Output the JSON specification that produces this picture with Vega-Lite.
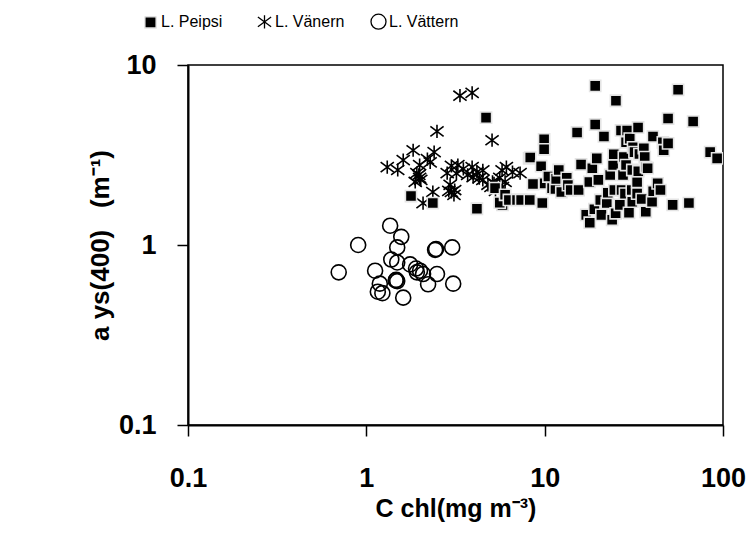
{
  "$schema": "https://vega.github.io/schema/vega-lite/v6.json",
  "width": 535,
  "height": 360,
  "autosize": {"type": "none"},
  "padding": {"left": 188, "top": 65, "right": 29, "bottom": 108},
  "background": "white",
  "datasets": {
    "samples": [
      {"lake": "L. Vättern", "chl": 1.36, "ays": 1.28},
      {"lake": "L. Vättern", "chl": 1.57, "ays": 1.11},
      {"lake": "L. Vättern", "chl": 0.90, "ays": 1.0},
      {"lake": "L. Vättern", "chl": 1.49, "ays": 0.97},
      {"lake": "L. Vättern", "chl": 2.43, "ays": 0.94},
      {"lake": "L. Vättern", "chl": 2.46, "ays": 0.95},
      {"lake": "L. Vättern", "chl": 3.03, "ays": 0.97},
      {"lake": "L. Vättern", "chl": 1.38, "ays": 0.83},
      {"lake": "L. Vättern", "chl": 1.49, "ays": 0.80},
      {"lake": "L. Vättern", "chl": 1.76, "ays": 0.78},
      {"lake": "L. Vättern", "chl": 1.90, "ays": 0.74},
      {"lake": "L. Vättern", "chl": 1.92, "ays": 0.705},
      {"lake": "L. Vättern", "chl": 2.08, "ays": 0.69},
      {"lake": "L. Vättern", "chl": 2.0, "ays": 0.72},
      {"lake": "L. Vättern", "chl": 2.49, "ays": 0.69},
      {"lake": "L. Vättern", "chl": 0.70, "ays": 0.705},
      {"lake": "L. Vättern", "chl": 1.12, "ays": 0.72},
      {"lake": "L. Vättern", "chl": 1.19, "ays": 0.61},
      {"lake": "L. Vättern", "chl": 1.47, "ays": 0.64},
      {"lake": "L. Vättern", "chl": 1.49, "ays": 0.63},
      {"lake": "L. Vättern", "chl": 1.46, "ays": 0.635},
      {"lake": "L. Vättern", "chl": 2.22, "ays": 0.605},
      {"lake": "L. Vättern", "chl": 3.07, "ays": 0.61},
      {"lake": "L. Vättern", "chl": 1.16, "ays": 0.55},
      {"lake": "L. Vättern", "chl": 1.23, "ays": 0.54},
      {"lake": "L. Vättern", "chl": 1.61, "ays": 0.51},

      {"lake": "L. Vänern", "chl": 3.35, "ays": 6.75},
      {"lake": "L. Vänern", "chl": 3.92, "ays": 7.0},
      {"lake": "L. Vänern", "chl": 2.49, "ays": 4.28},
      {"lake": "L. Vänern", "chl": 5.07, "ays": 3.82},
      {"lake": "L. Vänern", "chl": 1.31, "ays": 2.71},
      {"lake": "L. Vänern", "chl": 1.50, "ays": 2.61},
      {"lake": "L. Vänern", "chl": 1.61, "ays": 2.96},
      {"lake": "L. Vänern", "chl": 1.83, "ays": 3.36},
      {"lake": "L. Vänern", "chl": 2.40, "ays": 3.28},
      {"lake": "L. Vänern", "chl": 2.28, "ays": 2.88},
      {"lake": "L. Vänern", "chl": 2.2, "ays": 3.0},
      {"lake": "L. Vänern", "chl": 1.99, "ays": 2.78},
      {"lake": "L. Vänern", "chl": 1.92, "ays": 2.51},
      {"lake": "L. Vänern", "chl": 1.99, "ays": 2.36},
      {"lake": "L. Vänern", "chl": 1.88, "ays": 2.24},
      {"lake": "L. Vänern", "chl": 1.97, "ays": 2.45},
      {"lake": "L. Vänern", "chl": 2.02, "ays": 2.30},
      {"lake": "L. Vänern", "chl": 2.84, "ays": 2.51},
      {"lake": "L. Vänern", "chl": 2.95, "ays": 2.16},
      {"lake": "L. Vänern", "chl": 3.13, "ays": 2.02},
      {"lake": "L. Vänern", "chl": 3.26, "ays": 2.78},
      {"lake": "L. Vänern", "chl": 3.0, "ays": 2.75},
      {"lake": "L. Vänern", "chl": 3.2, "ays": 2.5},
      {"lake": "L. Vänern", "chl": 3.0, "ays": 1.97},
      {"lake": "L. Vänern", "chl": 2.9, "ays": 2.0},
      {"lake": "L. Vänern", "chl": 3.1, "ays": 1.9},
      {"lake": "L. Vänern", "chl": 2.36, "ays": 1.97},
      {"lake": "L. Vänern", "chl": 2.08, "ays": 1.71},
      {"lake": "L. Vänern", "chl": 3.5, "ays": 2.65},
      {"lake": "L. Vänern", "chl": 3.7, "ays": 2.45},
      {"lake": "L. Vänern", "chl": 3.92, "ays": 2.71},
      {"lake": "L. Vänern", "chl": 4.17, "ays": 2.54},
      {"lake": "L. Vänern", "chl": 4.5, "ays": 2.6},
      {"lake": "L. Vänern", "chl": 3.97, "ays": 2.38},
      {"lake": "L. Vänern", "chl": 4.3, "ays": 2.35},
      {"lake": "L. Vänern", "chl": 4.5, "ays": 2.3},
      {"lake": "L. Vänern", "chl": 4.81, "ays": 2.16},
      {"lake": "L. Vänern", "chl": 5.0, "ays": 2.1},
      {"lake": "L. Vänern", "chl": 5.1, "ays": 2.24},
      {"lake": "L. Vänern", "chl": 5.3, "ays": 2.0},
      {"lake": "L. Vänern", "chl": 5.2, "ays": 2.2},
      {"lake": "L. Vänern", "chl": 5.8, "ays": 2.1},
      {"lake": "L. Vänern", "chl": 5.77, "ays": 2.6},
      {"lake": "L. Vänern", "chl": 6.1, "ays": 2.71},
      {"lake": "L. Vänern", "chl": 6.6, "ays": 2.54},
      {"lake": "L. Vänern", "chl": 5.6, "ays": 2.36},
      {"lake": "L. Vänern", "chl": 6.0, "ays": 2.24},
      {"lake": "L. Vänern", "chl": 7.28, "ays": 2.51},

      {"lake": "L. Peipsi", "chl": 1.78, "ays": 1.87},
      {"lake": "L. Peipsi", "chl": 2.36, "ays": 1.71},
      {"lake": "L. Peipsi", "chl": 4.17, "ays": 1.59},
      {"lake": "L. Peipsi", "chl": 4.69, "ays": 5.1},
      {"lake": "L. Peipsi", "chl": 5.8, "ays": 1.67},
      {"lake": "L. Peipsi", "chl": 5.6, "ays": 1.72},
      {"lake": "L. Peipsi", "chl": 5.27, "ays": 2.07},
      {"lake": "L. Peipsi", "chl": 6.0, "ays": 1.9},
      {"lake": "L. Peipsi", "chl": 6.3, "ays": 1.78},
      {"lake": "L. Peipsi", "chl": 7.0, "ays": 1.78},
      {"lake": "L. Peipsi", "chl": 7.38, "ays": 1.78},
      {"lake": "L. Peipsi", "chl": 8.25, "ays": 1.78},
      {"lake": "L. Peipsi", "chl": 9.7, "ays": 1.71},
      {"lake": "L. Peipsi", "chl": 8.18, "ays": 3.03},
      {"lake": "L. Peipsi", "chl": 8.3, "ays": 3.06},
      {"lake": "L. Peipsi", "chl": 9.55, "ays": 2.74},
      {"lake": "L. Peipsi", "chl": 9.93, "ays": 3.86},
      {"lake": "L. Peipsi", "chl": 9.93, "ays": 3.40},
      {"lake": "L. Peipsi", "chl": 8.6, "ays": 2.18},
      {"lake": "L. Peipsi", "chl": 10.0, "ays": 2.2},
      {"lake": "L. Peipsi", "chl": 10.5, "ays": 2.4},
      {"lake": "L. Peipsi", "chl": 11.0, "ays": 2.07},
      {"lake": "L. Peipsi", "chl": 11.5, "ays": 2.05},
      {"lake": "L. Peipsi", "chl": 11.6, "ays": 2.33},
      {"lake": "L. Peipsi", "chl": 12.0, "ays": 2.61},
      {"lake": "L. Peipsi", "chl": 12.4, "ays": 1.97},
      {"lake": "L. Peipsi", "chl": 13.3, "ays": 2.36},
      {"lake": "L. Peipsi", "chl": 13.5, "ays": 2.15},
      {"lake": "L. Peipsi", "chl": 14.0, "ays": 2.02},
      {"lake": "L. Peipsi", "chl": 15.5, "ays": 2.02},
      {"lake": "L. Peipsi", "chl": 15.2, "ays": 4.22},
      {"lake": "L. Peipsi", "chl": 16.0, "ays": 2.8},
      {"lake": "L. Peipsi", "chl": 17.1, "ays": 1.47},
      {"lake": "L. Peipsi", "chl": 17.8, "ays": 2.24},
      {"lake": "L. Peipsi", "chl": 17.9, "ays": 1.33},
      {"lake": "L. Peipsi", "chl": 18.5, "ays": 2.67},
      {"lake": "L. Peipsi", "chl": 19.0, "ays": 1.58},
      {"lake": "L. Peipsi", "chl": 19.6, "ays": 3.03},
      {"lake": "L. Peipsi", "chl": 19.2, "ays": 4.67},
      {"lake": "L. Peipsi", "chl": 19.2, "ays": 7.66},
      {"lake": "L. Peipsi", "chl": 20.0, "ays": 2.3},
      {"lake": "L. Peipsi", "chl": 20.5, "ays": 1.78},
      {"lake": "L. Peipsi", "chl": 20.8, "ays": 1.47},
      {"lake": "L. Peipsi", "chl": 21.5, "ays": 4.01},
      {"lake": "L. Peipsi", "chl": 22.3, "ays": 1.71},
      {"lake": "L. Peipsi", "chl": 22.6, "ays": 1.95},
      {"lake": "L. Peipsi", "chl": 23.3, "ays": 2.45},
      {"lake": "L. Peipsi", "chl": 23.9, "ays": 1.38},
      {"lake": "L. Peipsi", "chl": 24.2, "ays": 2.78},
      {"lake": "L. Peipsi", "chl": 24.4, "ays": 3.19},
      {"lake": "L. Peipsi", "chl": 24.6, "ays": 2.02},
      {"lake": "L. Peipsi", "chl": 25.0, "ays": 1.5},
      {"lake": "L. Peipsi", "chl": 25.1, "ays": 6.33},
      {"lake": "L. Peipsi", "chl": 26.4, "ays": 1.67},
      {"lake": "L. Peipsi", "chl": 26.8, "ays": 4.33},
      {"lake": "L. Peipsi", "chl": 27.0, "ays": 2.02},
      {"lake": "L. Peipsi", "chl": 27.5, "ays": 2.45},
      {"lake": "L. Peipsi", "chl": 27.8, "ays": 3.08},
      {"lake": "L. Peipsi", "chl": 28.2, "ays": 1.93},
      {"lake": "L. Peipsi", "chl": 28.6, "ays": 3.72},
      {"lake": "L. Peipsi", "chl": 28.6, "ays": 2.78},
      {"lake": "L. Peipsi", "chl": 29.0, "ays": 4.33},
      {"lake": "L. Peipsi", "chl": 29.7, "ays": 1.51},
      {"lake": "L. Peipsi", "chl": 30.0, "ays": 3.9},
      {"lake": "L. Peipsi", "chl": 30.8, "ays": 2.02},
      {"lake": "L. Peipsi", "chl": 31.0, "ays": 2.61},
      {"lake": "L. Peipsi", "chl": 31.0, "ays": 1.74},
      {"lake": "L. Peipsi", "chl": 31.3, "ays": 3.49},
      {"lake": "L. Peipsi", "chl": 31.9, "ays": 3.28},
      {"lake": "L. Peipsi", "chl": 33.0, "ays": 2.24},
      {"lake": "L. Peipsi", "chl": 33.0, "ays": 1.93},
      {"lake": "L. Peipsi", "chl": 33.4, "ays": 4.5},
      {"lake": "L. Peipsi", "chl": 33.5, "ays": 2.57},
      {"lake": "L. Peipsi", "chl": 34.0, "ays": 3.2},
      {"lake": "L. Peipsi", "chl": 35.0, "ays": 1.8},
      {"lake": "L. Peipsi", "chl": 36.0, "ays": 3.45},
      {"lake": "L. Peipsi", "chl": 36.4, "ays": 3.08},
      {"lake": "L. Peipsi", "chl": 36.9, "ays": 1.53},
      {"lake": "L. Peipsi", "chl": 37.0, "ays": 2.71},
      {"lake": "L. Peipsi", "chl": 37.8, "ays": 2.67},
      {"lake": "L. Peipsi", "chl": 40.0, "ays": 1.74},
      {"lake": "L. Peipsi", "chl": 40.5, "ays": 4.01},
      {"lake": "L. Peipsi", "chl": 40.6, "ays": 1.99},
      {"lake": "L. Peipsi", "chl": 43.0, "ays": 2.2},
      {"lake": "L. Peipsi", "chl": 44.6, "ays": 2.02},
      {"lake": "L. Peipsi", "chl": 46.0, "ays": 3.72},
      {"lake": "L. Peipsi", "chl": 46.5, "ays": 3.36},
      {"lake": "L. Peipsi", "chl": 49.2, "ays": 3.67},
      {"lake": "L. Peipsi", "chl": 49.2, "ays": 5.04},
      {"lake": "L. Peipsi", "chl": 52.2, "ays": 1.67},
      {"lake": "L. Peipsi", "chl": 56.0, "ays": 7.28},
      {"lake": "L. Peipsi", "chl": 64.4, "ays": 1.71},
      {"lake": "L. Peipsi", "chl": 68.0, "ays": 4.85},
      {"lake": "L. Peipsi", "chl": 84.7, "ays": 3.28},
      {"lake": "L. Peipsi", "chl": 92.7, "ays": 3.03}
    ]
  },
  "data": {"name": "samples"},
  "mark": {"type": "point", "opacity": 1, "strokeWidth": 1.6, "clip": true},
  "encoding": {
    "x": {
      "field": "chl",
      "type": "quantitative",
      "scale": {"type": "log", "domain": [0.1, 100], "nice": false},
      "axis": {
        "values": [0.1, 1, 10, 100],
        "format": "~g",
        "title": "C chl(mg m⁻³)",
        "grid": false,
        "tickSize": 11,
        "labelPadding": 29,
        "titlePadding": 5,
        "titleFontSize": 25
      }
    },
    "y": {
      "field": "ays",
      "type": "quantitative",
      "scale": {"type": "log", "domain": [0.1, 10], "nice": false},
      "axis": {
        "values": [0.1, 1, 10],
        "format": "~g",
        "title": "a\u00a0ys(400)\u00a0\u00a0\u00a0(m⁻¹)",
        "grid": false,
        "tickSize": 11,
        "labelPadding": 21,
        "titlePadding": 5,
        "titleFontSize": 26
      }
    },
    "shape": {
      "field": "lake",
      "type": "nominal",
      "scale": {
        "domain": ["L. Peipsi", "L. Vänern", "L. Vättern"],
        "range": ["square", "M-1,-0.75L1,0.75M-1,0.75L1,-0.75M0,-1L0,1", "circle"]
      },
      "legend": {"title": null, "gridAlign": "all"}
    },
    "fill": {
      "field": "lake",
      "type": "nominal",
      "scale": {
        "domain": ["L. Peipsi", "L. Vänern", "L. Vättern"],
        "range": ["#000000", "transparent", "transparent"]
      },
      "legend": {"title": null, "gridAlign": "all"}
    },
    "stroke": {
      "field": "lake",
      "type": "nominal",
      "scale": {
        "domain": ["L. Peipsi", "L. Vänern", "L. Vättern"],
        "range": ["#e4e4e4", "#000000", "#000000"]
      },
      "legend": {"title": null, "gridAlign": "all"}
    },
    "size": {
      "field": "lake",
      "type": "nominal",
      "scale": {
        "domain": ["L. Peipsi", "L. Vänern", "L. Vättern"],
        "range": [125, 225, 95]
      },
      "legend": {"title": null, "gridAlign": "all"}
    }
  },
  "config": {
    "view": {"stroke": "#000000", "strokeWidth": 1.5},
    "axis": {
      "domainColor": "#000000",
      "domainWidth": 2,
      "tickColor": "#000000",
      "tickWidth": 1.5,
      "labelFont": "Liberation Sans",
      "labelFontWeight": "bold",
      "labelFontSize": 27,
      "labelColor": "#000000",
      "labelOverlap": false,
      "labelFlush": false,
      "titleFont": "Liberation Sans",
      "titleFontWeight": "bold",
      "titleColor": "#000000"
    },
    "legend": {
      "orient": "none",
      "direction": "horizontal",
      "columns": 3,
      "legendX": -46,
      "legendY": -52,
      "padding": 0,
      "gridAlign": "all",
      "columnPadding": 23,
      "labelFont": "Liberation Sans",
      "labelFontSize": 16,
      "labelColor": "#000000",
      "labelOffset": 2,
      "symbolStrokeWidth": 1.3
    }
  }
}
